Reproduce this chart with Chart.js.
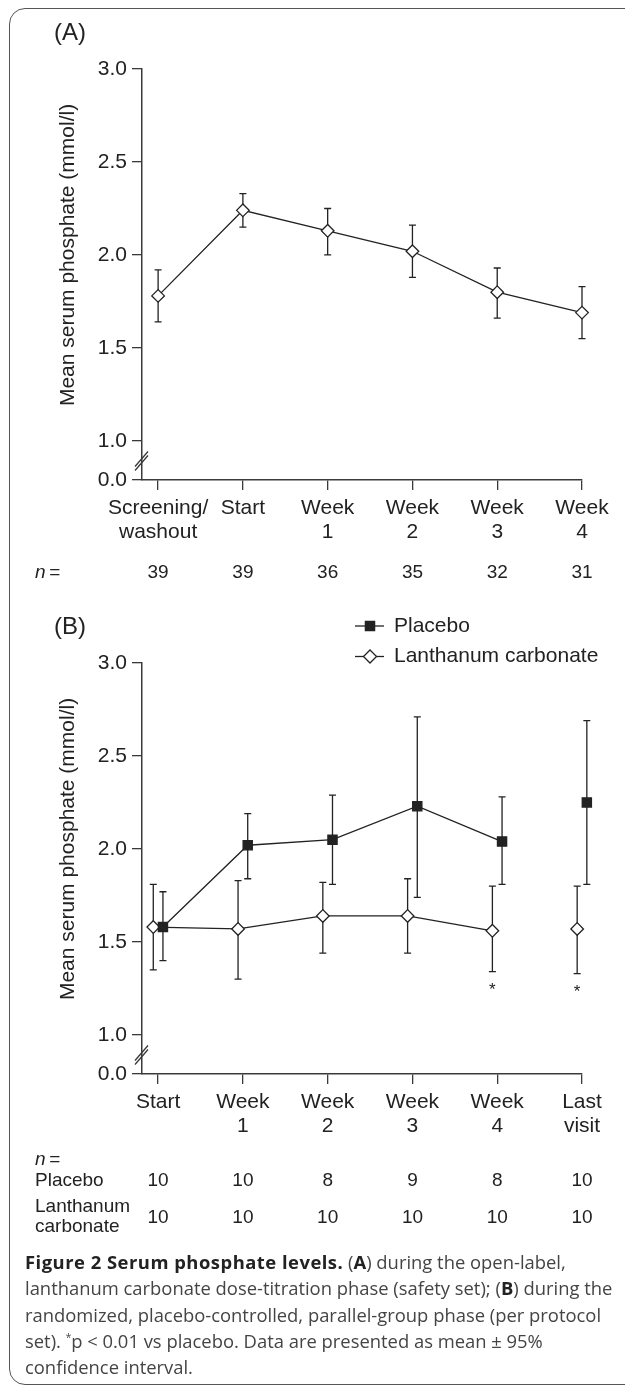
<!DOCTYPE html>
<html>
<head>
<meta charset="utf-8">
<title>Serum phosphate levels</title>
<script src="https://cdn.jsdelivr.net/npm/chart.js@4.4.0/dist/chart.umd.min.js"></script>
<style>
  html, body { margin: 0; padding: 0; background: #fff; }
  body { width: 625px; height: 1390px; position: relative; overflow: hidden; }
  #frame { position: absolute; left: 9px; top: 8px; width: 680px; height: 1377px;
           border: 1.5px solid #555; border-radius: 16px; box-sizing: border-box; }
  .panel { position: absolute; left: 0; width: 625px; }
  #panelA { top: 0; height: 600px; }
  #panelB { top: 594px; height: 650px; }
  #caption { position: absolute; left: 25px; top: 1249px; font-family: 'Open Sans', sans-serif;
             font-size: 18.4px; line-height: 26.3px; color: #444; white-space: nowrap; }
  #caption b { color: #222; }
  #caption b.head { letter-spacing: 0.5px; }
  #caption sup { font-size: 10px; line-height: 0; vertical-align: 7px; }
</style>
</head>
<body>
<div id="frame"></div>
<div class="panel" id="panelA"><canvas id="chartA"></canvas></div>
<div class="panel" id="panelB"><canvas id="chartB"></canvas></div>
<div id="caption">
  <b class="head">Figure 2 Serum phosphate levels.</b> (<b>A</b>) during the open-label,<br>
  lanthanum carbonate dose-titration phase (safety set); (<b>B</b>) during the<br>
  randomized, placebo-controlled, parallel-group phase (per protocol<br>
  set). <sup>*</sup>p &lt; 0.01 vs placebo. Data are presented as mean ± 95%<br>
  confidence interval.
</div>
<script>
// ---- panel A: open-label titration phase
const labelsA = [['Screening/', 'washout'], ['Start'], ['Week', '1'], ['Week', '2'], ['Week', '3'], ['Week', '4']]
const meanA = [1.78, 2.24, 2.13, 2.02, 1.80, 1.69]
const lowA  = [1.64, 2.15, 2.00, 1.88, 1.66, 1.55]
const highA = [1.92, 2.33, 2.25, 2.16, 1.93, 1.83]
const nA = [39, 39, 36, 35, 32, 31]

// ---- panel B: randomized phase
const labelsB = [['Start'], ['Week', '1'], ['Week', '2'], ['Week', '3'], ['Week', '4'], ['Last', 'visit']]
const placeboMean = [1.58, 2.02, 2.05, 2.23, 2.04, 2.25]
const placeboLow  = [1.40, 1.84, 1.81, 1.74, 1.81, 1.81]
const placeboHigh = [1.77, 2.19, 2.29, 2.71, 2.28, 2.69]
const lanthMean = [1.58, 1.57, 1.64, 1.64, 1.56, 1.57]
const lanthLow  = [1.35, 1.30, 1.44, 1.44, 1.34, 1.33]
const lanthHigh = [1.81, 1.83, 1.82, 1.84, 1.80, 1.80]
const nPlacebo = [10, 10, 8, 9, 8, 10]
const nLanth = [10, 10, 10, 10, 10, 10]
const significant = [false, false, false, false, true, true]

const yTickValues = [1.0, 1.5, 2.0, 2.5, 3.0]
const yTitle = 'Mean serum phosphate (mmol/l)'

const FONT = "'Liberation Sans', Arial, sans-serif"
const INK = '#222'
const AXIS = '#3a3a3a'
const breakBase = 0.79   // axis position where "0.0" sits below the break
const lastJoined = 4     // "Last visit" is not joined to the weekly line
const dodge = 0.057

function xScale(labels){
  return {
    type: 'linear', min: -0.19, max: 5,
    afterBuildTicks: s => { s.ticks = labels.map((l, i) => ({value: i})) },
    afterFit: s => { s.height = 100 },
    grid: {drawOnChartArea: false, tickLength: 10, color: AXIS, lineWidth: 1.3},
    border: {color: AXIS, width: 1.5},
    ticks: {
      callback: (v, i) => labels[i], autoSkip: false, maxRotation: 0, padding: 6,
      color: INK, font: {family: FONT, size: 21, lineHeight: 1.15}
    }
  }
}

function yScale(){
  return {
    min: breakBase, max: 3,
    afterBuildTicks: s => { s.ticks = [breakBase].concat(yTickValues).map(v => ({value: v})) },
    afterFit: s => { s.width = 142 },
    grid: {drawOnChartArea: false, tickLength: 10, color: AXIS, lineWidth: 1.3},
    border: {color: AXIS, width: 1.5},
    ticks: {
      callback: v => v === breakBase ? '0.0' : v.toFixed(1), padding: 5,
      color: INK, font: {family: FONT, size: 21}
    }
  }
}

const errorBars = {
  id: 'errorBars',
  beforeDatasetsDraw(chart){
    const {ctx, scales: {x, y}} = chart
    ctx.save()
    ctx.strokeStyle = INK
    ctx.lineWidth = 1.3
    chart.data.datasets.forEach(ds => {
      ds.low.forEach((lo, i) => {
        const px = x.getPixelForValue(ds.data[i].x)
        const top = y.getPixelForValue(ds.high[i])
        const bot = y.getPixelForValue(lo)
        ctx.beginPath()
        ctx.moveTo(px, top); ctx.lineTo(px, bot)
        ctx.moveTo(px - 3.5, top); ctx.lineTo(px + 3.5, top)
        ctx.moveTo(px - 3.5, bot); ctx.lineTo(px + 3.5, bot)
        ctx.stroke()
      })
    })
    ctx.restore()
  }
}

function nLabel(ctx, t, y){
  if(t === 'n ='){
    ctx.font = 'italic 19px ' + FONT
    ctx.fillText('n', 35, y)
    ctx.font = '19px ' + FONT
    ctx.fillText(' =', 44, y)
  } else {
    ctx.font = '19px ' + FONT
    ctx.fillText(t, 35, y)
  }
}

// panel letter, axis break, rotated y title, n = rows, stars and legend
function extras(cfg){
  return {
    id: 'extras',
    afterDraw(chart){
      const {ctx, scales: {x, y}} = chart
      ctx.save()
      ctx.fillStyle = INK
      ctx.textBaseline = 'middle'

      ctx.font = '24px ' + FONT
      ctx.textAlign = 'left'
      ctx.fillText(cfg.letter, 54, 33)

      // axis break
      const bx = chart.chartArea.left, by = y.getPixelForValue((breakBase + 1) / 2)
      ctx.strokeStyle = AXIS
      ctx.lineWidth = 1.3
      ctx.beginPath()
      ctx.moveTo(bx - 7, by + 6); ctx.lineTo(bx + 6, by - 9)
      ctx.moveTo(bx - 7, by + 10); ctx.lineTo(bx + 6, by - 5)
      ctx.stroke()

      // y title centred on the unbroken part of the axis
      ctx.save()
      ctx.translate(68, (y.getPixelForValue(1) + y.getPixelForValue(3)) / 2)
      ctx.rotate(-Math.PI / 2)
      ctx.textAlign = 'center'
      ctx.font = '21px ' + FONT
      ctx.fillText(yTitle, 0, 0)
      ctx.restore()

      // n rows
      cfg.rows.forEach(row => {
        ctx.textAlign = 'left'
        row.label.forEach((t, k) => nLabel(ctx, t, row.labelY[k]))
        ctx.textAlign = 'center'
        ctx.font = '19px ' + FONT
        if(row.counts) row.counts.forEach((v, i) => ctx.fillText(String(v), x.getPixelForValue(i), row.y))
      })

      // significance marks under the lanthanum bars
      if(cfg.stars){
        ctx.font = '17px ' + FONT
        ctx.textAlign = 'center'
        const ds = chart.data.datasets[cfg.stars.dataset]
        cfg.stars.flags.forEach((f, i) => {
          if(f) ctx.fillText('*', x.getPixelForValue(ds.data[i].x), y.getPixelForValue(ds.low[i]) + 19)
        })
      }

      // legend
      if(cfg.legendY){
        chart.data.datasets.forEach((ds, k) => {
          const ly = cfg.legendY[k]
          ctx.strokeStyle = INK
          ctx.lineWidth = 1.3
          ctx.beginPath(); ctx.moveTo(355, ly); ctx.lineTo(384, ly); ctx.stroke()
          ctx.fillStyle = ds.pointBackgroundColor
          ctx.beginPath()
          if(ds.pointStyle === 'rect'){
            ctx.rect(370 - 4.6, ly - 4.6, 9.2, 9.2)
          } else {
            ctx.moveTo(370, ly - 6.5); ctx.lineTo(376.5, ly); ctx.lineTo(370, ly + 6.5); ctx.lineTo(363.5, ly); ctx.closePath()
          }
          ctx.fill(); ctx.stroke()
          ctx.fillStyle = INK
          ctx.font = '21px ' + FONT
          ctx.textAlign = 'left'
          ctx.fillText(ds.label, 394, ly)
        })
      }
      ctx.restore()
    }
  }
}

function lineDataset(label, mean, low, high, shift, style, fill){
  return {
    label: label,
    data: mean.map((v, i) => ({x: i + shift, y: v})),
    low: low, high: high,
    borderColor: INK, borderWidth: 1.3, tension: 0,
    pointStyle: style, pointRadius: style === 'rect' ? 6.5 : 6.3, pointHoverRadius: style === 'rect' ? 6.5 : 6.3,
    pointBackgroundColor: fill, pointBorderColor: INK, pointBorderWidth: 1.3,
    segment: {borderColor: c => c.p1DataIndex > lastJoined ? 'rgba(0,0,0,0)' : INK},
    clip: false
  }
}

Chart.defaults.animation = false

new Chart('chartA', {
  type: 'line',
  data: {datasets: [
    Object.assign(lineDataset('Lanthanum carbonate', meanA, lowA, highA, 0, 'rectRot', '#fff'), {segment: {}})
  ]},
  options: {
    responsive: true, maintainAspectRatio: false, events: [],
    layout: {padding: {top: 69, right: 43, bottom: 20, left: 0}},
    scales: {x: xScale(labelsA), y: yScale()},
    plugins: {legend: {display: false}, tooltip: {enabled: false}}
  },
  plugins: [errorBars, extras({
    letter: '(A)',
    rows: [{label: ['n ='], labelY: [573], counts: nA, y: 573}]
  })]
})

new Chart('chartB', {
  type: 'line',
  data: {datasets: [
    lineDataset('Placebo', placeboMean, placeboLow, placeboHigh, dodge, 'rect', INK),
    lineDataset('Lanthanum carbonate', lanthMean, lanthLow, lanthHigh, -dodge, 'rectRot', '#fff')
  ]},
  options: {
    responsive: true, maintainAspectRatio: false, events: [],
    layout: {padding: {top: 69, right: 43, bottom: 70, left: 0}},
    scales: {x: xScale(labelsB), y: yScale()},
    plugins: {legend: {display: false}, tooltip: {enabled: false}}
  },
  plugins: [errorBars, extras({
    letter: '(B)',
    rows: [
      {label: ['n ='], labelY: [566]},
      {label: ['Placebo'], labelY: [587], counts: nPlacebo, y: 587},
      {label: ['Lanthanum', 'carbonate'], labelY: [613, 633], counts: nLanth, y: 624}
    ],
    stars: {dataset: 1, flags: significant},
    legendY: [32, 62.5]
  })]
})
</script>
</body>
</html>
